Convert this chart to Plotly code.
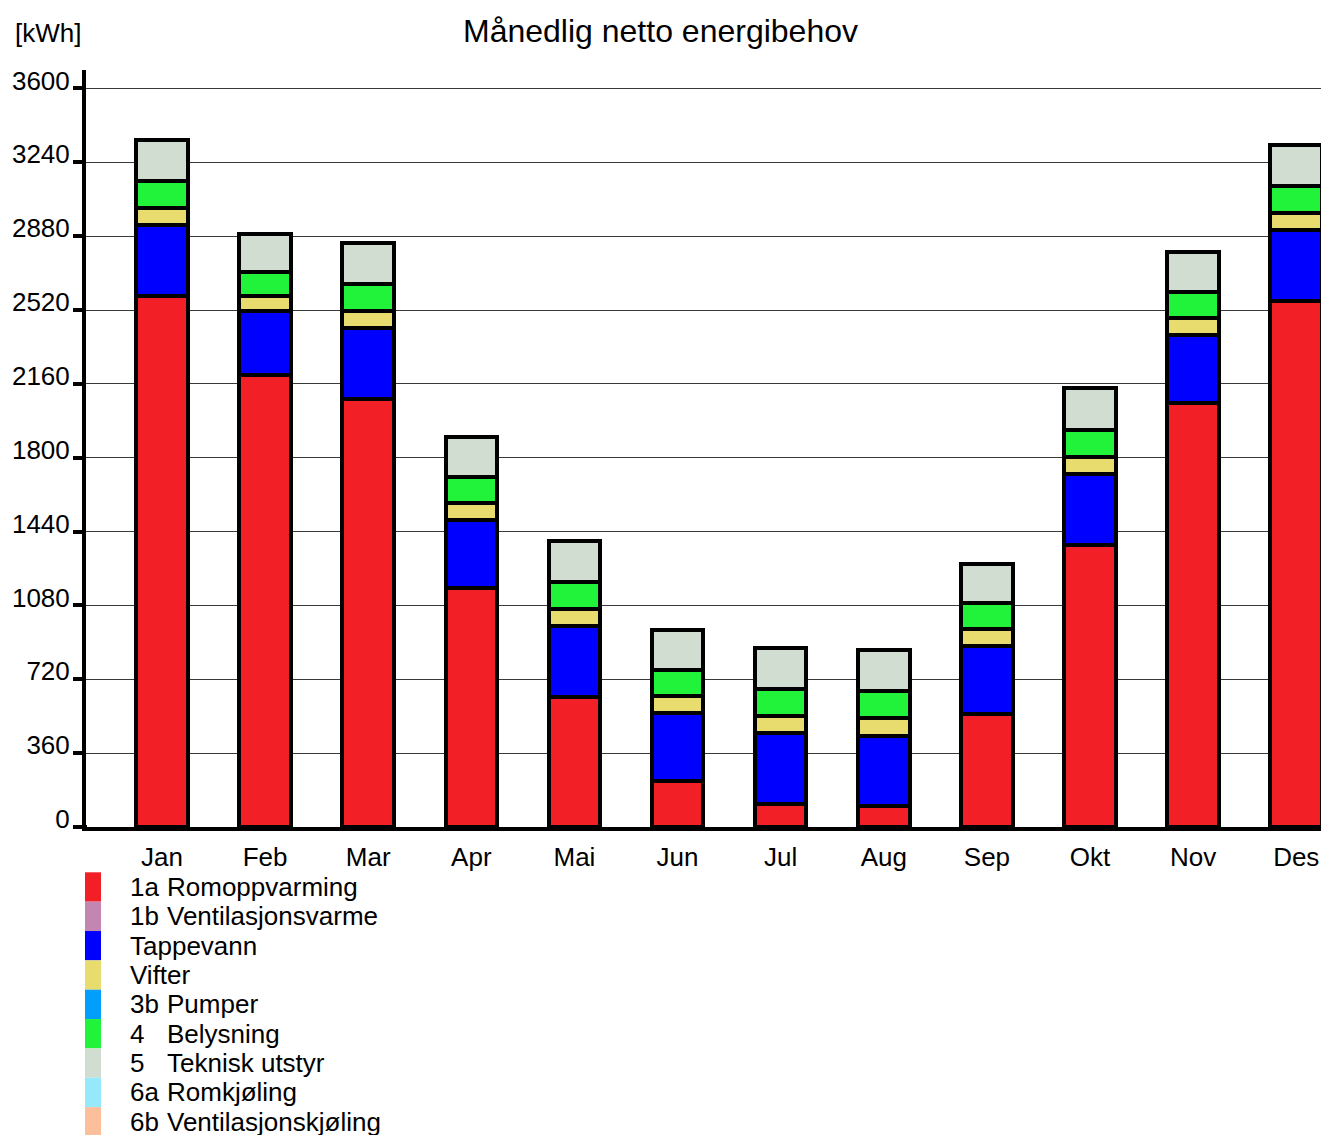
import plotly.graph_objects as go

months = ["Jan", "Feb", "Mar", "Apr", "Mai", "Jun", "Jul", "Aug", "Sep", "Okt", "Nov", "Des"]

romoppvarming = [2589, 2204, 2088, 1165, 635, 223, 114, 103, 550, 1375, 2065, 2565]
ventilasjonsvarme = [0, 0, 0, 0, 0, 0, 0, 0, 0, 0, 0, 0]
tappevann = [345, 312, 343, 332, 343, 332, 342, 343, 331, 347, 332, 345]
vifter = [83, 73, 85, 83, 85, 82, 86, 85, 83, 84, 82, 83]
pumper = [0, 0, 0, 0, 0, 0, 0, 0, 0, 0, 0, 0]
belysning = [132, 118, 130, 126, 132, 128, 129, 131, 127, 131, 127, 132]
teknisk_utstyr = [200, 183, 200, 195, 200, 194, 201, 201, 193, 201, 195, 200]
romkjoling = [0, 0, 0, 0, 0, 0, 0, 0, 0, 0, 0, 0]
ventilasjonskjoling = [0, 0, 0, 0, 0, 0, 0, 0, 0, 0, 0, 0]

codes = ["1a", "1b", "", "", "3b", "4", "5", "6a", "6b"]
names = ["Romoppvarming", "Ventilasjonsvarme", "Tappevann", "Vifter", "Pumper",
         "Belysning", "Teknisk utstyr", "Romkjøling", "Ventilasjonskjøling"]
colors = ["#f21f27", "#c386b0", "#0000ff", "#e8dc6e", "#009ffc",
          "#20f33a", "#d1ddd1", "#96e9fb", "#fbbf9c"]
series = [romoppvarming, ventilasjonsvarme, tappevann, vifter, pumper,
          belysning, teknisk_utstyr, romkjoling, ventilasjonskjoling]

yticks = [0, 360, 720, 1080, 1440, 1800, 2160, 2520, 2880, 3240, 3600]

FONT = "Liberation Sans, Arial, Helvetica, sans-serif"

# page size and plot area margins (pixels)
W, H = 1321, 1135
L, R, T, B = 86, 0, 70, 308


def px(x):
    return (x - L) / (W - L - R)


def py(y):
    return (H - B - y) / (H - T - B)


def label(text, x, y, size=26):
    return dict(text=text, xref="paper", yref="paper", x=px(x), y=py(y),
                xanchor="left", yanchor="middle", showarrow=False,
                font=dict(size=size, family=FONT, color="black"))


fig = go.Figure()
for code, name, color, vals in zip(codes, names, colors, series):
    fig.add_trace(go.Bar(
        x=months, y=vals, name=(code + " " + name).strip(),
        width=0.5,
        marker=dict(color=color, line=dict(color="black", width=4)),
        showlegend=False,
    ))

# hand-drawn legend: tall touching swatches with text beside them
shapes = []
annotations = []
row_top, row_h = 872.3, 29.35
for i, (code, name, color) in enumerate(zip(codes, names, colors)):
    y0 = row_top + i * row_h
    shapes.append(dict(type="rect", xref="paper", yref="paper",
                       x0=px(85), x1=px(101), y0=py(y0), y1=py(y0 + row_h),
                       fillcolor=color, line=dict(width=0), layer="above"))
    yc = y0 + row_h / 2
    if code:
        annotations.append(label(code, 128, yc))
        annotations.append(label(name, 165, yc))
    else:
        annotations.append(label(name, 128, yc))

annotations.append(label("[kWh]", 13, 33))

# x axis line runs a bit left of the y axis
shapes.append(dict(type="line", xref="paper", yref="paper", x0=px(77), x1=px(87),
                   y0=0, y1=0, line=dict(color="black", width=4)))

fig.update_layout(
    width=W, height=H,
    margin=dict(l=L, r=R, t=T, b=B, pad=0),
    barmode="stack",
    plot_bgcolor="white", paper_bgcolor="white",
    font=dict(family=FONT, size=26, color="black"),
    title=dict(text="Månedlig netto energibehov", x=0.5, xref="container", xanchor="center",
               y=1 - 31 / H, yref="container", yanchor="middle",
               font=dict(size=32, family=FONT, color="black")),
    xaxis=dict(
        type="category",
        range=[-0.737, 11.24],
        showgrid=False,
        showline=True, linecolor="black", linewidth=4,
        ticks="", ticklabelstandoff=4,
        tickfont=dict(size=26, family=FONT, color="black"),
        zeroline=False,
    ),
    yaxis=dict(
        range=[0, 3690],
        tickvals=yticks,
        showgrid=True, gridcolor="#3a3a3a", gridwidth=1.2,
        showline=True, linecolor="black", linewidth=4,
        ticks="outside", ticklen=9, tickwidth=4, tickcolor="black",
        ticklabelshift=-8, ticklabelstandoff=-2,
        tickfont=dict(size=26, family=FONT, color="black"),
        zeroline=False,
    ),
    shapes=shapes,
    annotations=annotations,
)

# drop the browser's default page margin so the figure fills the window
fig.write_html("out.html", config={"displayModeBar": False},
               post_script="document.body.style.margin='0';document.body.style.overflow='hidden';")
